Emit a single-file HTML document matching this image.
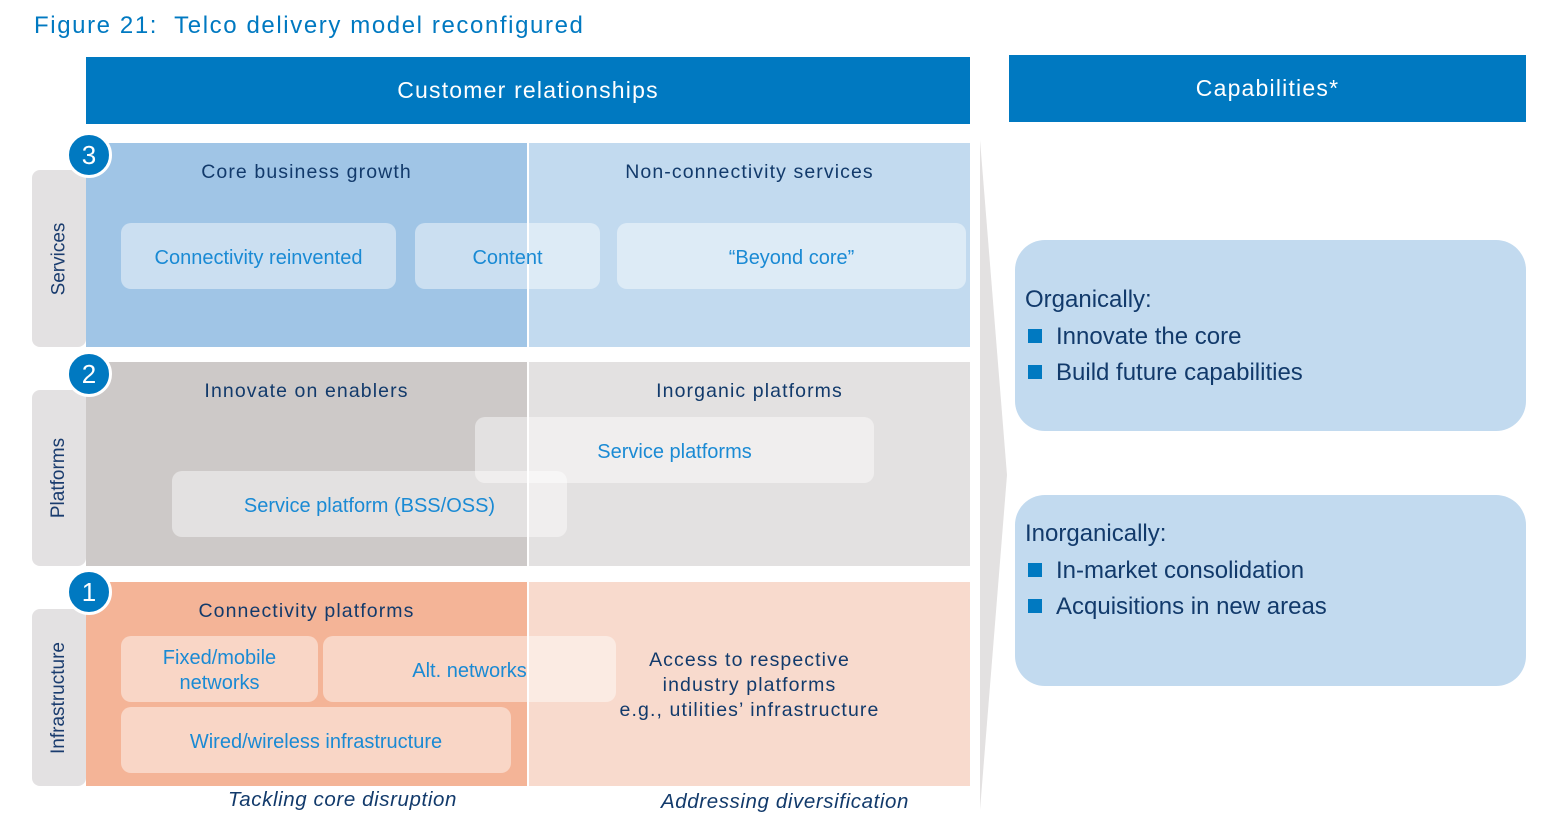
<!DOCTYPE html>
<html><head><meta charset="utf-8"><style>
body{margin:0;width:1543px;height:822px;background:#fff;position:relative;overflow:hidden;font-family:"Liberation Sans",sans-serif}
div{position:absolute;box-sizing:border-box}
.c{display:flex;align-items:center;justify-content:center;text-align:center}
.hd{background:#0079c1;color:#fff;font-size:23px;letter-spacing:1.2px}
.side{background:#e3e1e2;border-radius:8px;color:#1a3c6e;font-size:19px}
.side span{transform:rotate(-90deg);white-space:nowrap;display:block}
.t{color:#123a6b;font-size:19.5px;letter-spacing:1.1px;text-align:center}
.b{background:rgba(255,255,255,.45);border-radius:10px;color:#1a8ad4;font-size:20px;padding-top:4px}
.num{width:46px;height:46px;border-radius:50%;background:#0079c1;border:3px solid #fff;color:#fff;font-size:26px}
.cap{background:#c2daef;border-radius:30px;color:#123a6b;font-size:24px;padding:42px 0 0 10px;line-height:36.5px}
.sq{display:inline-block;width:14px;height:14px;background:#0079c1;margin:0 14px 0 3px;vertical-align:1px}
.it{color:#123a6b;font-style:italic;font-size:20.5px;letter-spacing:.6px}
</style></head><body>
<div style="left:34px;top:12px;color:#0079c1;font-size:24px;letter-spacing:1.6px">Figure 21:&nbsp; Telco delivery model reconfigured</div>
<div class="hd c" style="left:86px;top:57px;width:884px;height:67px">Customer relationships</div>
<div class="hd c" style="left:1009px;top:55px;width:517px;height:67px">Capabilities*</div>

<svg style="position:absolute;left:975px;top:135px" width="40" height="680"><polygon points="5,5 32,340 5,675" fill="#e3e1e1"/></svg>

<div class="side c" style="left:32px;top:170px;width:54px;height:177px"><span>Services</span></div>
<div class="side c" style="left:32px;top:390px;width:54px;height:176px"><span>Platforms</span></div>
<div class="side c" style="left:32px;top:609px;width:54px;height:177px"><span>Infrastructure</span></div>

<div style="left:86px;top:143px;width:441px;height:204px;background:#a0c5e6"></div>
<div style="left:529px;top:143px;width:441px;height:204px;background:#c2daef"></div>
<div style="left:86px;top:362px;width:441px;height:204px;background:#cdc9c8"></div>
<div style="left:529px;top:362px;width:441px;height:204px;background:#e3e1e1"></div>
<div style="left:86px;top:582px;width:441px;height:204px;background:#f4b497"></div>
<div style="left:529px;top:582px;width:441px;height:204px;background:#f8dacd"></div>

<div class="t" style="left:86px;top:161px;width:441px">Core business growth</div>
<div class="t" style="left:529px;top:161px;width:441px">Non-connectivity services</div>
<div class="b c" style="left:121px;top:223px;width:275px;height:66px">Connectivity reinvented</div>
<div class="b c" style="left:415px;top:223px;width:185px;height:66px">Content</div>
<div class="b c" style="left:617px;top:223px;width:349px;height:66px">“Beyond core”</div>

<div class="t" style="left:86px;top:380px;width:441px">Innovate on enablers</div>
<div class="t" style="left:529px;top:380px;width:441px">Inorganic platforms</div>
<div class="b c" style="left:475px;top:417px;width:399px;height:66px">Service platforms</div>
<div class="b c" style="left:172px;top:471px;width:395px;height:66px">Service platform (BSS/OSS)</div>

<div class="t" style="left:86px;top:600px;width:441px">Connectivity platforms</div>
<div class="b c" style="left:121px;top:636px;width:197px;height:66px;line-height:25px">Fixed/mobile<br>networks</div>
<div class="b c" style="left:323px;top:636px;width:293px;height:66px">Alt. networks</div>
<div class="b c" style="left:121px;top:707px;width:390px;height:66px">Wired/wireless infrastructure</div>
<div class="t" style="left:529px;top:648px;width:441px;line-height:25px">Access to respective<br>industry platforms<br>e.g., utilities’ infrastructure</div>

<div class="num c" style="left:66px;top:132px">3</div>
<div class="num c" style="left:66px;top:351px">2</div>
<div class="num c" style="left:66px;top:569px">1</div>

<div class="it" style="left:228px;top:788px">Tackling core disruption</div>
<div class="it" style="left:661px;top:790px">Addressing diversification</div>

<div class="cap" style="left:1015px;top:240px;width:511px;height:191px">Organically:<br><span class="sq"></span>Innovate the core<br><span class="sq"></span>Build future capabilities</div>
<div class="cap" style="left:1015px;top:495px;width:511px;height:191px;padding-top:21px">Inorganically:<br><span class="sq"></span>In-market consolidation<br><span class="sq"></span>Acquisitions in new areas</div>
</body></html>
